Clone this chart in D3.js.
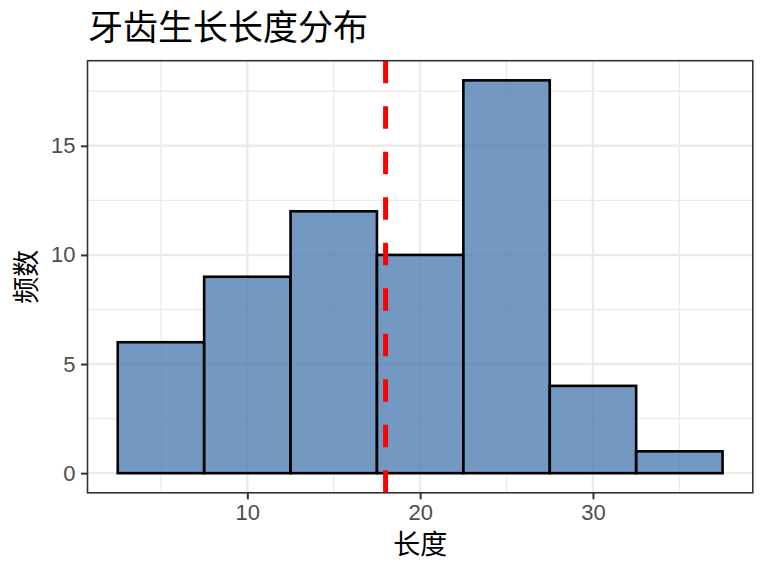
<!DOCTYPE html>
<html>
<head>
<meta charset="utf-8">
<script src="https://cdn.jsdelivr.net/npm/d3@7"></script>
<style>
  html, body { margin: 0; padding: 0; background: #fff; }
  svg { display: block; }
</style>
</head>
<body>
<svg id="chart" width="768" height="576"></svg>
<script>
// ---- data ----
const binStarts = [2.5, 7.5, 12.5, 17.5, 22.5, 27.5, 32.5];
const binWidth = 5;
const counts = [6, 9, 12, 10, 18, 4, 1];
const meanValue = 18;
const xTicks = [10, 20, 30];
const xMinorTicks = [5, 15, 25, 35];
const yTicks = [0, 5, 10, 15];
const yMinorTicks = [2.5, 7.5, 12.5, 17.5];
const titleText = "牙齿生长长度分布";
const xLabel = "长度";
const yLabel = "频数";

// ---- layout ----
const panel = { left: 87.5, right: 752.8, top: 60.7, bottom: 492.8 };
const cjk = "'Noto Sans CJK SC', 'Noto Sans', sans-serif";
const latin = "'Liberation Sans', Arial, sans-serif";

const svg = d3.select("#chart");

const xMin = d3.min(binStarts), xMax = d3.max(binStarts) + binWidth;
const xPad = (xMax - xMin) * 0.05;
const x = d3.scaleLinear().domain([xMin - xPad, xMax + xPad]).range([panel.left, panel.right]);
const yMax = d3.max(counts);
const yPad = yMax * 0.05;
const y = d3.scaleLinear().domain([-yPad, yMax + yPad]).range([panel.bottom, panel.top]);

// panel background
svg.append("rect")
  .attr("x", panel.left).attr("y", panel.top)
  .attr("width", panel.right - panel.left).attr("height", panel.bottom - panel.top)
  .attr("fill", "#fff");

const grid = svg.append("g");
// minor grid
grid.selectAll(".xminor").data(xMinorTicks).enter().append("line")
  .attr("x1", d => x(d)).attr("x2", d => x(d))
  .attr("y1", panel.top).attr("y2", panel.bottom)
  .attr("stroke", "#EBEBEB").attr("stroke-width", 1.3);
grid.selectAll(".yminor").data(yMinorTicks).enter().append("line")
  .attr("y1", d => y(d)).attr("y2", d => y(d))
  .attr("x1", panel.left).attr("x2", panel.right)
  .attr("stroke", "#EBEBEB").attr("stroke-width", 1.3);
// major grid
grid.selectAll(".xmajor").data(xTicks).enter().append("line")
  .attr("x1", d => x(d)).attr("x2", d => x(d))
  .attr("y1", panel.top).attr("y2", panel.bottom)
  .attr("stroke", "#EBEBEB").attr("stroke-width", 2.4);
grid.selectAll(".ymajor").data(yTicks).enter().append("line")
  .attr("y1", d => y(d)).attr("y2", d => y(d))
  .attr("x1", panel.left).attr("x2", panel.right)
  .attr("stroke", "#EBEBEB").attr("stroke-width", 2.4);

// bars
svg.append("g").selectAll("rect").data(binStarts.map((s, i) => ({ s, c: counts[i] })))
  .enter().append("rect")
  .attr("x", d => x(d.s))
  .attr("width", d => x(d.s + binWidth) - x(d.s))
  .attr("y", d => y(d.c))
  .attr("height", d => y(0) - y(d.c))
  .attr("fill", "rgb(80,128,179)")
  .attr("fill-opacity", 0.8)
  .attr("stroke", "#000")
  .attr("stroke-width", 2.6);

// mean line
svg.append("line")
  .attr("x1", x(meanValue)).attr("x2", x(meanValue))
  .attr("y1", panel.top).attr("y2", panel.bottom)
  .attr("stroke", "#FF0000").attr("stroke-width", 5)
  .attr("stroke-dasharray", "22.5,23");

// panel border
svg.append("rect")
  .attr("x", panel.left).attr("y", panel.top)
  .attr("width", panel.right - panel.left).attr("height", panel.bottom - panel.top)
  .attr("fill", "none").attr("stroke", "#333333").attr("stroke-width", 1.6);

// axes
const xAxis = d3.axisBottom(x).tickValues(xTicks).tickSize(6.5).tickPadding(5);
const gx = svg.append("g").attr("transform", `translate(0,${panel.bottom})`).call(xAxis);
gx.select(".domain").remove();
gx.selectAll(".tick line").attr("stroke", "#333333").attr("stroke-width", 2);
gx.selectAll(".tick text").attr("fill", "#4D4D4D")
  .style("font-family", latin).style("font-size", "22px");

const yAxis = d3.axisLeft(y).tickValues(yTicks).tickSize(6.5).tickPadding(5.5);
const gy = svg.append("g").attr("transform", `translate(${panel.left},0)`).call(yAxis);
gy.select(".domain").remove();
gy.selectAll(".tick line").attr("stroke", "#333333").attr("stroke-width", 2);
gy.selectAll(".tick text").attr("fill", "#4D4D4D")
  .style("font-family", latin).style("font-size", "22px");

// titles
svg.append("text")
  .attr("x", 88).attr("y", 39.5)
  .attr("fill", "#000")
  .style("font-family", cjk).style("font-size", "35px")
  .text(titleText);

svg.append("text")
  .attr("x", (panel.left + panel.right) / 2).attr("y", 554)
  .attr("text-anchor", "middle").attr("fill", "#000")
  .style("font-family", cjk).style("font-size", "27px")
  .text(xLabel);

svg.append("text")
  .attr("transform", `translate(35.5,${(panel.top + panel.bottom) / 2}) rotate(-90)`)
  .attr("text-anchor", "middle").attr("fill", "#000")
  .style("font-family", cjk).style("font-size", "27px")
  .text(yLabel);
</script>
</body>
</html>
